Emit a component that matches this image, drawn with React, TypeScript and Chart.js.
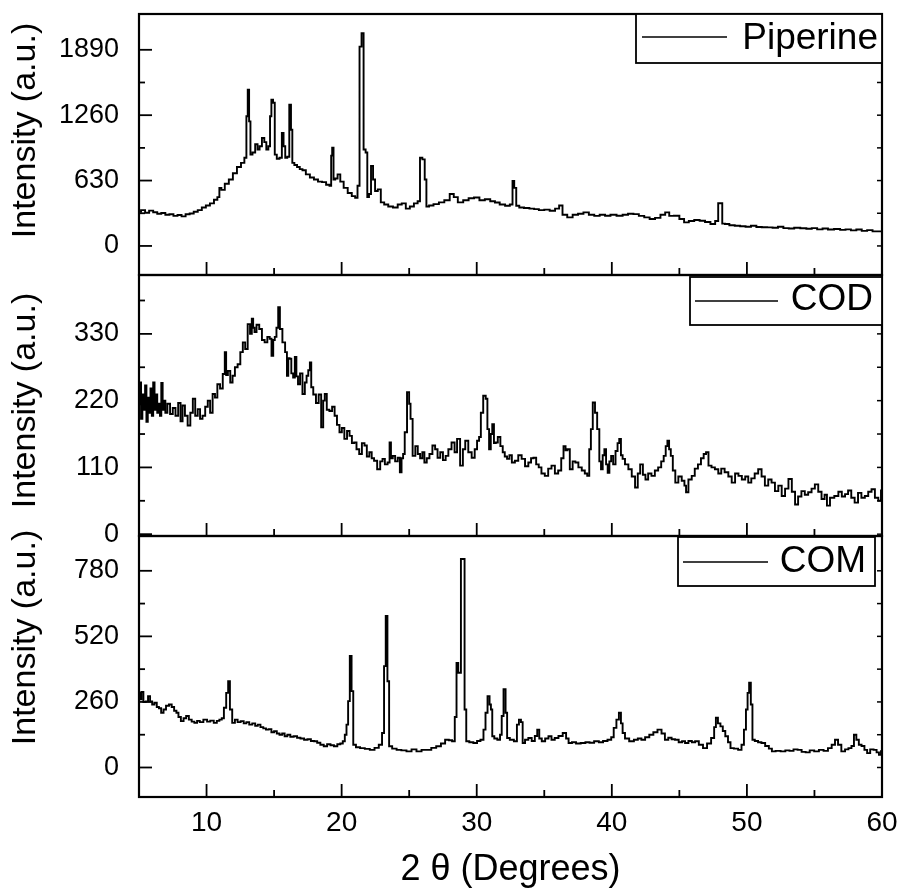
import { useEffect, useRef } from "react";
import { Chart, registerables } from "chart.js";

Chart.register(...registerables);

// ---------- data (2θ in degrees, intensity in a.u.) ----------
const piperinePattern: [number, number][] = [
  [5.0, 330], [5.3, 345], [5.6, 320], [5.9, 340], [6.2, 325], [6.5, 310], [6.8, 318], [7.1, 300],
  [7.4, 305], [7.7, 290], [8.0, 298], [8.3, 285], [8.6, 305], [8.9, 312], [9.2, 330], [9.5, 345],
  [9.8, 370], [10.1, 390], [10.4, 410], [10.7, 445], [10.9, 470], [11.0, 560], [11.2, 540], [11.5, 600],
  [11.8, 640], [12.1, 700], [12.4, 760], [12.7, 800], [12.9, 850], [13.0, 1250], [13.1, 1505], [13.2, 1200],
  [13.3, 880], [13.5, 900], [13.7, 980], [13.85, 930], [14.0, 960], [14.2, 1040], [14.35, 1000], [14.5, 930],
  [14.65, 960], [14.75, 1250], [14.85, 1409], [15.0, 1380], [15.1, 880], [15.3, 840], [15.5, 850], [15.65, 1090],
  [15.75, 960], [15.9, 850], [16.05, 860], [16.2, 1362], [16.3, 1120], [16.4, 800], [16.6, 780], [16.8, 760],
  [17.0, 740], [17.2, 730], [17.5, 690], [17.8, 660], [18.1, 640], [18.4, 620], [18.7, 615], [19.0, 590],
  [19.2, 580], [19.25, 870], [19.35, 946], [19.45, 640], [19.6, 650], [19.8, 690], [20.0, 620], [20.3, 560],
  [20.6, 510], [20.9, 480], [21.1, 465], [21.25, 580], [21.4, 1921], [21.55, 2049], [21.7, 930], [21.85, 900],
  [21.95, 470], [22.1, 500], [22.25, 770], [22.4, 640], [22.55, 530], [22.8, 545], [23.0, 420], [23.3, 400],
  [23.6, 380], [24.0, 370], [24.3, 400], [24.6, 410], [24.9, 360], [25.2, 380], [25.5, 410], [25.75, 430],
  [25.85, 850], [26.1, 834], [26.2, 640], [26.35, 380], [26.6, 390], [27.0, 403], [27.4, 420], [27.8, 440],
  [28.2, 500], [28.4, 470], [28.8, 420], [29.2, 440], [29.6, 460], [30.0, 467], [30.4, 440], [30.8, 450],
  [31.2, 430], [31.5, 419], [31.9, 400], [32.3, 387], [32.6, 400], [32.7, 626], [32.85, 560], [33.0, 387],
  [33.3, 371], [33.7, 365], [34.1, 360], [34.4, 355], [34.8, 345], [35.2, 350], [35.6, 339], [36.0, 360],
  [36.2, 390], [36.5, 300], [36.9, 275], [37.3, 300], [37.7, 310], [38.1, 323], [38.5, 300], [38.9, 290],
  [39.3, 300], [39.7, 291], [40.1, 300], [40.6, 291], [41.0, 300], [41.4, 310], [41.8, 307], [42.2, 290],
  [42.6, 275], [43.0, 259], [43.4, 270], [43.8, 300], [44.1, 323], [44.4, 290], [44.8, 291], [45.2, 260],
  [45.5, 227], [45.9, 240], [46.3, 250], [46.7, 243], [47.1, 230], [47.5, 211], [47.8, 240], [47.95, 412],
  [48.1, 412], [48.25, 215], [48.5, 211], [48.9, 200], [49.3, 195], [49.7, 190], [50.1, 185], [50.5, 195],
  [50.9, 182], [51.3, 180], [51.7, 179], [52.1, 175], [52.5, 185], [52.9, 172], [53.3, 168], [53.7, 175],
  [54.2, 170], [54.6, 165], [55.0, 172], [55.4, 160], [55.8, 168], [56.2, 158], [56.7, 163], [57.1, 155],
  [57.5, 160], [57.9, 150], [58.3, 158], [58.7, 145], [59.1, 152], [59.5, 140], [60.0, 140],
];

const codPattern: [number, number][] = [
  [5.0, 214], [5.1, 250], [5.2, 190], [5.3, 230], [5.4, 205], [5.5, 245], [5.6, 185], [5.7, 225],
  [5.8, 200], [5.9, 240], [6.0, 195], [6.1, 250], [6.2, 205], [6.3, 230], [6.4, 200], [6.5, 215],
  [6.6, 195], [6.7, 249], [6.8, 205], [6.9, 220], [7.0, 200], [7.2, 215], [7.4, 198], [7.6, 208],
  [7.8, 195], [8.0, 216], [8.15, 186], [8.3, 212], [8.5, 195], [8.7, 179], [8.9, 200], [9.07, 223],
  [9.25, 195], [9.44, 206], [9.6, 190], [9.8, 195], [10.0, 210], [10.18, 220], [10.35, 200], [10.55, 231],
  [10.7, 225], [10.9, 247], [11.1, 240], [11.3, 264], [11.4, 300], [11.5, 262], [11.66, 269], [11.85, 250],
  [12.0, 261], [12.2, 275], [12.4, 280], [12.6, 300], [12.77, 316], [12.95, 305], [13.14, 346], [13.3, 330],
  [13.4, 355], [13.5, 340], [13.6, 333], [13.8, 345], [14.0, 338], [14.2, 320], [14.4, 316], [14.6, 325],
  [14.75, 322], [14.87, 294], [15.0, 320], [15.1, 325], [15.25, 340], [15.36, 374], [15.5, 338], [15.73, 316],
  [15.9, 300], [16.0, 261], [16.1, 290], [16.2, 289], [16.35, 265], [16.47, 258], [16.6, 292], [16.7, 260],
  [16.84, 247], [17.0, 265], [17.2, 231], [17.35, 250], [17.46, 261], [17.6, 270], [17.7, 283], [17.8, 242],
  [18.0, 230], [18.2, 216], [18.4, 230], [18.57, 176], [18.7, 220], [18.8, 231], [19.0, 205], [19.19, 203],
  [19.4, 210], [19.56, 195], [19.75, 180], [19.93, 168], [20.1, 175], [20.3, 157], [20.5, 170], [20.67, 162],
  [20.85, 150], [21.0, 151], [21.2, 140], [21.4, 132], [21.6, 150], [21.78, 146], [21.95, 128], [22.15, 135],
  [22.3, 125], [22.5, 121], [22.76, 107], [22.95, 120], [23.1, 124], [23.3, 115], [23.5, 118], [23.6, 151],
  [23.7, 125], [23.87, 129], [24.05, 120], [24.25, 126], [24.37, 102], [24.5, 125], [24.6, 132], [24.74, 168],
  [24.94, 234], [25.05, 215], [25.15, 190], [25.36, 129], [25.55, 145], [25.72, 132], [25.9, 125], [26.05, 135],
  [26.2, 118], [26.4, 125], [26.6, 132], [26.84, 146], [27.0, 140], [27.2, 126], [27.4, 135], [27.6, 122],
  [27.8, 129], [28.0, 140], [28.27, 151], [28.45, 135], [28.64, 157], [28.9, 113], [29.05, 140], [29.25, 154],
  [29.5, 135], [29.75, 126], [29.95, 140], [30.1, 154], [30.25, 160], [30.36, 200], [30.6, 228], [30.73, 223],
  [30.85, 173], [30.98, 140], [31.1, 165], [31.2, 181], [31.35, 150], [31.47, 151], [31.65, 160], [31.85, 145],
  [32.0, 135], [32.15, 128], [32.34, 124], [32.5, 130], [32.7, 118], [32.95, 121], [33.2, 130], [33.45, 124],
  [33.7, 112], [33.94, 118], [34.1, 125], [34.3, 126], [34.5, 115], [34.68, 110], [34.9, 100], [35.18, 96],
  [35.4, 108], [35.67, 113], [35.9, 100], [36.16, 105], [36.35, 125], [36.5, 145], [36.65, 138], [36.78, 140],
  [37.0, 107], [37.2, 120], [37.4, 118], [37.65, 110], [37.9, 105], [38.1, 100], [38.26, 96], [38.4, 140],
  [38.5, 173], [38.68, 217], [38.83, 200], [39.0, 173], [39.15, 120], [39.25, 107], [39.4, 130], [39.5, 140],
  [39.65, 115], [39.74, 101], [39.9, 120], [40.0, 129], [40.2, 115], [40.35, 137], [40.5, 150], [40.6, 157],
  [40.75, 130], [40.85, 124], [41.1, 115], [41.35, 107], [41.6, 95], [41.84, 77], [42.0, 100], [42.2, 115],
  [42.4, 98], [42.58, 90], [42.8, 100], [43.07, 96], [43.3, 105], [43.56, 110], [43.75, 120], [43.93, 129],
  [44.05, 145], [44.18, 154], [44.3, 140], [44.43, 129], [44.6, 105], [44.8, 85], [45.05, 95], [45.3, 88],
  [45.45, 80], [45.54, 69], [45.8, 90], [46.03, 96], [46.25, 108], [46.5, 115], [46.7, 125], [46.9, 132],
  [47.05, 135], [47.26, 113], [47.5, 110], [47.76, 107], [48.0, 100], [48.2, 108], [48.5, 102], [48.75, 95],
  [49.0, 85], [49.25, 100], [49.5, 96], [49.75, 90], [50.0, 95], [50.2, 85], [50.45, 92], [50.7, 100],
  [50.97, 107], [51.2, 95], [51.46, 80], [51.7, 90], [51.95, 85], [52.2, 71], [52.45, 80], [52.7, 63],
  [52.95, 75], [53.2, 91], [53.45, 70], [53.68, 49], [53.9, 62], [54.17, 71], [54.4, 65], [54.67, 69],
  [54.9, 75], [55.16, 82], [55.4, 70], [55.65, 58], [55.85, 65], [56.0, 47], [56.3, 60], [56.64, 63],
  [56.9, 70], [57.15, 62], [57.38, 66], [57.6, 72], [57.85, 60], [58.1, 52], [58.35, 68], [58.6, 60],
  [58.86, 63], [59.1, 70], [59.35, 74], [59.6, 60], [59.85, 55], [60.0, 72],
];

const comPattern: [number, number][] = [
  [5.0, 296], [5.1, 270], [5.25, 300], [5.4, 260], [5.6, 262], [5.74, 283], [5.9, 262], [6.05, 250],
  [6.23, 257], [6.4, 240], [6.55, 235], [6.73, 217], [6.9, 230], [7.1, 245], [7.34, 250], [7.5, 240],
  [7.7, 225], [7.84, 217], [8.0, 200], [8.2, 184], [8.4, 195], [8.58, 204], [8.8, 190], [9.0, 182],
  [9.2, 177], [9.4, 185], [9.6, 180], [9.93, 190], [10.15, 182], [10.4, 186], [10.67, 177], [10.85, 185],
  [11.05, 190], [11.2, 195], [11.37, 237], [11.54, 296], [11.66, 342], [11.8, 230], [12.0, 177], [12.2, 190],
  [12.4, 180], [12.65, 184], [12.85, 175], [13.05, 180], [13.27, 170], [13.5, 175], [13.7, 165], [13.88, 170],
  [14.1, 160], [14.3, 155], [14.5, 150], [14.7, 152], [14.9, 140], [15.1, 144], [15.3, 135], [15.5, 130],
  [15.7, 135], [15.86, 124], [16.1, 130], [16.3, 122], [16.6, 124], [16.8, 118], [17.1, 115], [17.34, 110],
  [17.6, 112], [17.85, 105], [18.08, 104], [18.3, 98], [18.55, 90], [18.8, 84], [19.05, 92], [19.3, 88],
  [19.56, 84], [19.8, 92], [20.0, 95], [20.17, 104], [20.3, 130], [20.42, 170], [20.54, 263], [20.67, 442],
  [20.8, 303], [20.92, 90], [21.2, 80], [21.53, 77], [21.9, 74], [22.27, 70], [22.6, 78], [22.9, 90],
  [23.08, 137], [23.2, 402], [23.33, 601], [23.45, 342], [23.58, 84], [23.9, 75], [24.24, 70], [24.6, 68],
  [25.0, 64], [25.35, 72], [25.73, 64], [26.1, 70], [26.47, 70], [26.8, 78], [27.2, 84], [27.5, 95],
  [27.82, 110], [28.05, 108], [28.3, 104], [28.45, 200], [28.56, 415], [28.7, 376], [28.76, 376], [28.9, 827],
  [29.05, 827], [29.15, 230], [29.3, 104], [29.6, 100], [29.9, 97], [30.15, 105], [30.4, 110], [30.6, 150],
  [30.7, 217], [30.9, 283], [31.0, 250], [31.1, 230], [31.2, 124], [31.4, 115], [31.65, 110], [31.8, 130],
  [31.9, 204], [32.07, 310], [32.2, 217], [32.3, 117], [32.6, 110], [32.9, 104], [33.05, 170], [33.2, 190],
  [33.35, 180], [33.45, 97], [33.7, 110], [33.94, 117], [34.2, 105], [34.4, 125], [34.56, 150], [34.7, 115],
  [34.93, 104], [35.2, 115], [35.42, 124], [35.65, 110], [35.9, 117], [36.2, 125], [36.53, 137], [36.7, 115],
  [36.9, 97], [37.2, 100], [37.5, 95], [37.89, 97], [38.2, 100], [38.5, 98], [38.88, 104], [39.2, 100],
  [39.5, 105], [39.86, 110], [40.05, 120], [40.23, 157], [40.45, 190], [40.6, 217], [40.75, 175], [40.85, 137],
  [41.1, 115], [41.47, 104], [41.8, 110], [42.05, 115], [42.33, 110], [42.6, 120], [42.95, 130], [43.2, 140],
  [43.56, 150], [43.8, 135], [44.06, 110], [44.3, 118], [44.55, 112], [44.8, 110], [45.1, 100], [45.3, 104],
  [45.54, 97], [45.8, 105], [46.05, 100], [46.28, 104], [46.6, 90], [46.9, 77], [47.2, 95], [47.5, 117],
  [47.65, 160], [47.76, 197], [47.95, 175], [48.13, 163], [48.3, 145], [48.5, 124], [48.7, 100], [48.87, 77],
  [49.2, 75], [49.5, 70], [49.7, 90], [49.86, 150], [50.0, 230], [50.1, 296], [50.23, 336], [50.35, 250],
  [50.47, 110], [50.7, 105], [50.95, 100], [51.2, 97], [51.5, 85], [51.75, 75], [51.95, 64], [52.3, 66],
  [52.69, 64], [53.0, 68], [53.3, 66], [53.6, 72], [53.9, 70], [54.2, 62], [54.5, 60], [54.8, 68],
  [55.16, 64], [55.5, 70], [55.85, 66], [56.15, 77], [56.4, 90], [56.64, 110], [56.85, 90], [57.13, 64],
  [57.4, 72], [57.63, 77], [57.85, 85], [58.0, 130], [58.2, 110], [58.37, 90], [58.6, 85], [58.8, 70],
  [59.0, 57], [59.25, 72], [59.5, 70], [59.7, 60], [59.85, 50], [60.0, 65],
];

const seriesNames = ["Piperine", "COD", "COM"];

// tick values
const xMajorTicks = [10, 20, 30, 40, 50, 60];
const xMinorTicks = [15, 25, 35, 45, 55];
const piperineTicks = [0, 630, 1260, 1890];
const piperineMinorTicks = [315, 945, 1575];
const codTicks = [0, 110, 220, 330];
const codMinorTicks = [55, 165, 275, 385];
const comTicks = [0, 260, 520, 780];
const comMinorTicks = [130, 390, 650];

const xRange = [5, 60];
const piperineRange = [-280, 2235];
const codRange = [-3, 427];
const comRange = [-117, 918];

const FONT = "'Liberation Sans', Arial, Helvetica, sans-serif";

const panels = [
  { axis: "yPip", name: seriesNames[0], major: piperineTicks, minor: piperineMinorTicks,
    legend: { rightInset: 0, dy: 0, w: 246, h: 49, lineX0: 6, lineX1: 91, lineDy: 23, textInset: 4, textDy: 25 },
    titleShift: -14 },
  { axis: "yCod", name: seriesNames[1], major: codTicks, minor: codMinorTicks,
    legend: { rightInset: 0, dy: 2, w: 192, h: 48, lineX0: 5, lineX1: 88, lineDy: 26, textInset: 9, textDy: 25 },
    titleShift: -5 },
  { axis: "yCom", name: seriesNames[2], major: comTicks, minor: comMinorTicks,
    legend: { rightInset: 7, dy: 1, w: 197, h: 49, lineX0: 5, lineX1: 90, lineDy: 26, textInset: 9, textDy: 26 },
    titleShift: -29 },
];

const panelPlugin = {
  id: "xrdPanels",
  afterDraw(chart: any) {
    const { ctx, chartArea } = chart;
    const xs = chart.scales.x;
    const left = chartArea.left;
    const right = chartArea.right;
    ctx.save();
    ctx.strokeStyle = "#000";
    ctx.fillStyle = "#000";
    const line = (x0: number, y0: number, x1: number, y1: number, w: number) => {
      ctx.lineWidth = w;
      ctx.beginPath();
      ctx.moveTo(x0, y0);
      ctx.lineTo(x1, y1);
      ctx.stroke();
    };
    panels.forEach((p) => {
      const ys = chart.scales[p.axis];
      const top = ys.top;
      const bottom = ys.bottom;
      // y ticks (inward)
      p.major.forEach((v) => {
        const y = ys.getPixelForValue(v);
        line(left, y, left + 13, y, 1.8);
        line(right - 5, y, right, y, 1.5);
      });
      p.minor.forEach((v) => {
        const y = ys.getPixelForValue(v);
        if (y < top + 2 || y > bottom - 2) return;
        line(left, y, left + 6, y, 1.8);
        line(right - 5, y, right, y, 1.5);
      });
      // x ticks on bottom of every panel (inward)
      xMajorTicks.forEach((v) => {
        const x = xs.getPixelForValue(v);
        if (x > right - 2) return;
        line(x, bottom, x, bottom - 13, 1.8);
      });
      xMinorTicks.forEach((v) => {
        const x = xs.getPixelForValue(v);
        line(x, bottom, x, bottom - 7, 1.8);
      });
      // frame
      ctx.lineWidth = 2.2;
      ctx.strokeRect(left, top, right - left, bottom - top);
      // legend
      const L = p.legend;
      const bx = right - L.rightInset - L.w;
      const by = top + L.dy;
      ctx.fillStyle = "#fff";
      ctx.fillRect(bx, by, L.w, L.h);
      ctx.lineWidth = 1.8;
      ctx.strokeRect(bx, by, L.w, L.h);
      line(bx + L.lineX0, top + L.lineDy, bx + L.lineX1, top + L.lineDy, 1.6);
      ctx.fillStyle = "#000";
      ctx.font = `37px ${FONT}`;
      ctx.textAlign = "right";
      ctx.textBaseline = "middle";
      ctx.fillText(p.name, bx + L.w - L.textInset, top + L.textDy);
      // y-axis title
      ctx.save();
      ctx.translate(35, (top + bottom) / 2 + p.titleShift);
      ctx.rotate(-Math.PI / 2);
      ctx.font = `34px ${FONT}`;
      ctx.textAlign = "center";
      ctx.textBaseline = "alphabetic";
      ctx.fillText("Intensity (a.u.)", 0, 0);
      ctx.restore();
    });
    ctx.restore();
  },
};

function yScale(range: number[], ticks: number[], weight: number) {
  return {
    type: "linear" as const,
    position: "left" as const,
    stack: "panels",
    stackWeight: 1,
    weight,
    min: range[0],
    max: range[1],
    grid: { display: false, drawTicks: false },
    border: { display: false },
    ticks: {
      font: { family: FONT, size: 27 },
      color: "#000",
      padding: 20,
      autoSkip: false,
      callback: (v: any) => String(v),
    },
    afterBuildTicks: (s: any) => {
      s.ticks = ticks.map((v) => ({ value: v }));
    },
    afterFit: (s: any) => {
      s.width = 139;
      s.paddingTop = 0;
      s.paddingBottom = 0;
      s.paddingLeft = 0;
      s.paddingRight = 0;
    },
  };
}

const toPoints = (arr: [number, number][]) => arr.map(([x, y]) => ({ x, y }));

export default function App() {
  const ref = useRef<HTMLCanvasElement | null>(null);
  useEffect(() => {
    if (!ref.current) return;
    const ds = (name: string, data: [number, number][], axis: string) => ({
      label: name,
      data: toPoints(data),
      yAxisID: axis,
      xAxisID: "x",
      borderColor: "#000",
      borderWidth: 1.9,
      pointRadius: 0,
      fill: false,
      stepped: "middle" as const,
    });
    const chart = new Chart(ref.current, {
      type: "line",
      data: {
        datasets: [
          ds(seriesNames[0], piperinePattern, "yPip"),
          ds(seriesNames[1], codPattern, "yCod"),
          ds(seriesNames[2], comPattern, "yCom"),
        ],
      },
      options: {
        responsive: false,
        devicePixelRatio: 1,
        animation: false,
        layout: { padding: { left: 0, right: 19, top: 14, bottom: 0 } },
        plugins: { legend: { display: false }, tooltip: { enabled: false } },
        scales: {
          x: {
            type: "linear",
            position: "bottom",
            min: xRange[0],
            max: xRange[1],
            grid: { display: false, drawTicks: false },
            border: { display: false },
            ticks: {
              font: { family: FONT, size: 28 },
              color: "#000",
              padding: 9,
              autoSkip: false,
              maxRotation: 0,
              callback: (v: any) => String(v),
            },
            title: {
              display: true,
              text: "2 θ (Degrees)",
              color: "#000",
              font: { family: FONT, size: 36 },
              padding: { top: 0, bottom: 2 },
            },
            afterBuildTicks: (s: any) => {
              s.ticks = xMajorTicks.map((v) => ({ value: v }));
            },
            afterFit: (s: any) => {
              s.height = 97;
              s.paddingLeft = 0;
              s.paddingRight = 0;
              s.paddingTop = 0;
              s.paddingBottom = 0;
            },
          },
          yPip: yScale(piperineRange, piperineTicks, 3),
          yCod: yScale(codRange, codTicks, 2),
          yCom: yScale(comRange, comTicks, 1),
        } as any,
      },
      plugins: [panelPlugin],
    });
    return () => chart.destroy();
  }, []);
  return (
    <div style={{ position: "absolute", left: 0, top: 0, width: 901, height: 894, background: "#fff" }}>
      <canvas ref={ref} width={901} height={894} style={{ display: "block", width: 901, height: 894 }} />
    </div>
  );
}
